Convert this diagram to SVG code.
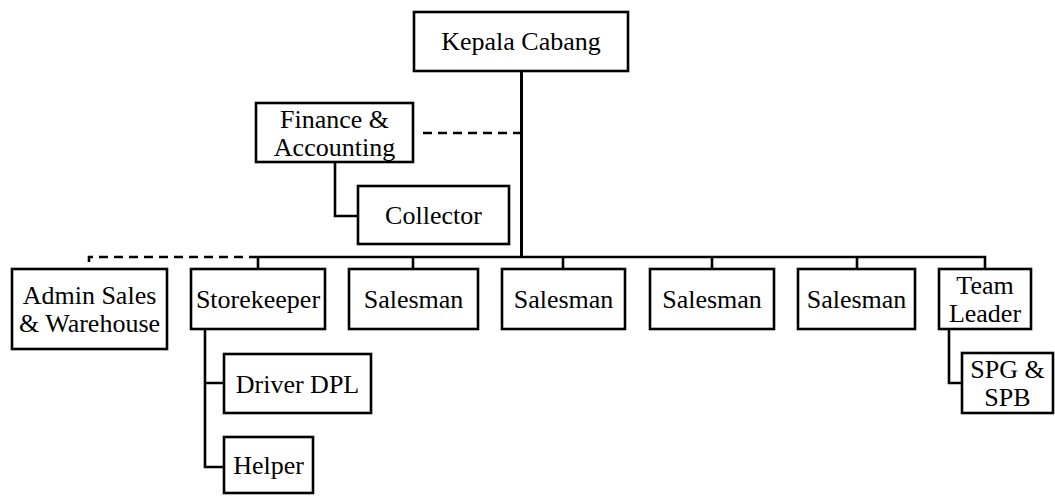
<svg xmlns="http://www.w3.org/2000/svg" width="1055" height="496" viewBox="0 0 1055 496">
<style>
.box{fill:#fff;stroke:#000;stroke-width:2.6}
.ln{fill:none;stroke:#000;stroke-width:2.6}
.trunk{fill:none;stroke:#000;stroke-width:3}
.dash{fill:none;stroke:#000;stroke-width:2.6;stroke-dasharray:9 6}
.t{font-family:'Liberation Serif',Tinos,'Times New Roman',Times,'DejaVu Serif',serif;font-size:26px;fill:#000;text-anchor:middle}
</style>
<rect width="1055" height="496" fill="#fff"/>
<g id="connectors">
<path class="trunk" d="M521.5 71V257"/>
<path class="dash" d="M423 133H520"/>
<path class="ln" d="M335 162V216H358"/>
<path class="ln" d="M258 257H985V269"/>
<path class="dash" d="M258 257H89V269"/>
<path class="ln" d="M258 257V269"/>
<path class="ln" d="M413 257V269M563 257V269M712 257V269M857 257V269"/>
<path class="ln" d="M205 329V467H224M205 383H224"/>
<path class="ln" d="M949 329V383H962"/>
</g>
<g class="t" font-family="Liberation Serif, Times New Roman, serif">
<g id="kepala"><rect class="box" x="414" y="12" width="214" height="59"/><text x="521" y="50">Kepala Cabang</text></g>
<g id="finance"><rect class="box" x="256" y="103" width="157" height="59"/><text x="334.5" y="128">Finance &amp;</text><text x="334.5" y="156">Accounting</text></g>
<g id="collector"><rect class="box" x="358" y="186" width="151" height="58"/><text x="433.5" y="224">Collector</text></g>
<g id="admin"><rect class="box" x="12" y="269" width="155" height="80"/><text x="89.5" y="304">Admin Sales</text><text x="89.5" y="332">&amp; Warehouse</text></g>
<g id="storekeeper"><rect class="box" x="191" y="269" width="134" height="60"/><text x="258" y="308">Storekeeper</text></g>
<g id="salesman1"><rect class="box" x="349" y="269" width="129" height="60"/><text x="413.5" y="308">Salesman</text></g>
<g id="salesman2"><rect class="box" x="502" y="269" width="123" height="60"/><text x="563.5" y="308">Salesman</text></g>
<g id="salesman3"><rect class="box" x="650" y="269" width="124" height="60"/><text x="712" y="308">Salesman</text></g>
<g id="salesman4"><rect class="box" x="798" y="269" width="117" height="60"/><text x="856.5" y="308">Salesman</text></g>
<g id="teamleader"><rect class="box" x="939" y="269" width="92" height="60"/><text x="985" y="294">Team</text><text x="985" y="322">Leader</text></g>
<g id="driver"><rect class="box" x="224" y="354" width="147" height="59"/><text x="297.5" y="393">Driver DPL</text></g>
<g id="helper"><rect class="box" x="224" y="437" width="89" height="56"/><text x="268.5" y="474">Helper</text></g>
<g id="spg"><rect class="box" x="962" y="353" width="91" height="60"/><text x="1007.5" y="378">SPG &amp;</text><text x="1007.5" y="406">SPB</text></g>
</g>
</svg>
